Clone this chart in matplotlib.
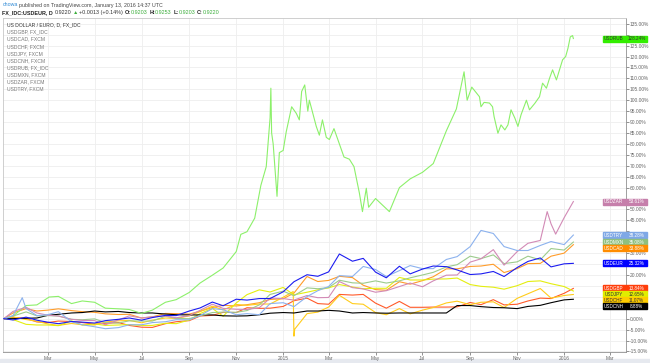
#!/usr/bin/env python3

"""USD against nine currencies, % change since Jan 2014 (TradingView compare chart)."""

import matplotlib
matplotlib.use('Agg')
import matplotlib.pyplot as plt
import pandas as pd
from matplotlib.patches import Rectangle

W, H = 650, 363
FONT = ['Liberation Sans', 'DejaVu Sans']

# Semi-monthly sample dates shared by most series.
grid_dates = ['2014-01-03', '2014-01-15', '2014-02-01', '2014-02-15',
              '2014-03-01', '2014-03-15', '2014-04-01', '2014-04-15',
              '2014-05-01', '2014-05-15', '2014-06-01', '2014-06-15',
              '2014-07-01', '2014-07-15', '2014-08-01', '2014-08-15',
              '2014-09-01', '2014-09-15', '2014-10-01', '2014-10-15',
              '2014-11-01', '2014-11-15', '2014-12-01', '2014-12-15',
              '2015-01-01', '2015-01-15', '2015-02-01', '2015-02-15',
              '2015-03-01', '2015-03-15', '2015-04-01', '2015-04-15',
              '2015-05-01', '2015-05-15', '2015-06-01', '2015-06-15',
              '2015-07-01', '2015-07-15', '2015-08-01', '2015-08-15',
              '2015-09-01', '2015-09-15', '2015-10-01', '2015-10-15',
              '2015-11-01', '2015-11-15', '2015-12-01', '2015-12-15',
              '2016-01-01', '2016-01-13']

# % change.
usdeur = [0, -0.6, 0.7, -0.7, -1.6, -2.3, -1.3, -1.6, -2.0, -0.9, -0.3, 0.3,
          -0.7, 0.5, 1.5, 1.4, 3.5, 4.9, 7.6, 5.9, 8.9, 8.5, 9.2, 9.2,
          12.3, 16.9, 20.1, 19.4, 21.4, 29.6, 26.3, 27.6, 21.3, 18.7, 24.0,
          20.5, 22.7, 24.1, 23.8, 22.3, 20.2, 20.5, 21.6, 19.3, 23.4, 26.2,
          27.8, 23.7, 25.1, 25.32]
usdgbp = [0, 0.6, 0.1, -1.5, -1.8, -1.1, -1.3, -1.8, -2.5, -2.1, -1.8, -3.1,
          -3.9, -4.0, -2.3, -1.4, -0.9, 1.2, 1.5, 2.9, 2.8, 5.0, 4.7, 4.8,
          5.6, 8.2, 9.4, 6.9, 6.6, 11.1, 10.8, 11.1, 7.1, 4.8, 7.9, 5.2,
          5.2, 5.3, 5.3, 5.4, 7.4, 6.4, 8.7, 6.3, 6.6, 8.1, 9.4, 9.2, 11.6,
          13.84]
usdcad = [0, 2.6, 4.6, 3.5, 3.9, 4.5, 3.7, 3.2, 2.9, 2.2, 1.9, 2.0, 0.3, 0.8,
          2.4, 2.3, 2.1, 3.4, 5.1, 6.1, 5.8, 6.4, 7.3, 8.8, 9.1, 11.7, 19.3,
          17.0, 17.5, 19.4, 18.8, 15.3, 13.3, 13.0, 16.9, 15.8, 17.4, 19.2,
          22.8, 22.8, 23.9, 24.1, 24.9, 21.1, 22.9, 25.2, 25.3, 28.6, 30.0,
          33.88]
usdjpy = [0, -0.4, -2.6, -2.9, -2.9, -3.2, -1.0, -2.9, -2.4, -3.1, -2.9, -2.7,
          -3.1, -3.1, -2.1, -2.3, -0.6, 2.3, 4.7, 1.1, 7.2, 11.0, 13.2, 12.2,
          14.3, 10.9, 12.1, 13.2, 14.1, 15.6, 14.5, 13.7, 13.9, 13.9, 18.9,
          17.7, 17.7, 18.1, 18.2, 18.6, 15.6, 14.8, 14.4, 13.5, 15.1, 17.0,
          17.3, 16.0, 14.7, 12.65]
usdcnh = [0, 0, 0.2, 0.3, 1.5, 2.0, 2.6, 2.8, 3.5, 3.1, 3.3, 2.8, 2.6, 2.6,
          2.1, 1.8, 1.7, 1.7, 1.7, 1.3, 1.2, 1.3, 1.8, 2.5, 2.8, 2.6, 3.5,
          3.5, 3.8, 3.5, 2.6, 2.8, 2.6, 2.5, 2.6, 2.6, 2.6, 2.6, 2.6, 6.0,
          6.0, 5.5, 5.1, 5.0, 4.6, 5.6, 6.1, 7.3, 8.6, 8.88]
usdmxn = [0, 1.2, 3.1, 1.3, 1.4, 1.2, -0.3, -0.5, -0.1, -1.8, -2.0, -1.0,
          -1.1, -1.1, 1.1, 0.1, 0, 1.3, 2.8, 3.0, 2.9, 3.7, 6.3, 11.1, 12.6,
          10.5, 14.1, 13.7, 14.2, 17.6, 16.4, 16.2, 17.3, 16.3, 17.3, 18.7,
          20.0, 21.2, 23.7, 24.7, 28.6, 27.5, 29.2, 25.2, 26.0, 28.6, 26.9,
          32.1, 31.4, 35.08]

# Series with events between the grid dates get their own dates.
chf_dates = grid_dates[:25] + ['2015-01-14', '2015-01-15', '2015-01-16',
                               '2015-01-23'] + grid_dates[26:]
usdchf = [0, 0.8, -0.4, -1.2, -2.4, -3.1, -2.2, -2.8, -2.9, -1.5, -1.0, -0.8,
          -1.9, -0.7, 0.3, 0.1, 1.3, 3.2, 5.7, 4.0, 6.5, 6.1, 6.7, 6.7, 9.8,
          12.4, -8.0, -4.8, -1.7,
          2.3, 3.0, 5.3, 10.7, 6.9, 6.6, 2.8, 1.8, 4.6, 2.2, 3.9, 5.1, 7.2,
          8.0, 6.4, 7.5, 7.7, 5.1, 9.3, 11.4, 13.8, 9.4, 10.6, 11.07]

zar_dates = grid_dates[:47] + ['2015-12-10', '2015-12-15', '2015-12-21',
                               '2016-01-01', '2016-01-13']
usdzar = [0, 3.3, 5.2, 2.6, 1.6, 1.2, -0.3, -0.8, -0.9, -2.8, -0.6, 1.3,
          0.3, 0.9, 1.2, 0.4, 1.4, 3.8, 6.6, 4.7, 4.3, 4.2, 5.0, 9.4, 9.2,
          8.5, 10.6, 9.6, 9.7, 17.0, 14.2, 13.6, 12.1, 12.8, 14.7, 16.3,
          14.6, 17.3, 19.9, 20.0, 25.9, 27.4, 31.6, 24.5, 30.7, 34.5, 35.8,
          49.0, 43.4, 38.7, 46.2, 53.61]

try_dates = grid_dates[:2] + ['2014-01-27'] + grid_dates[2:]
usdtry = [0, 1.4, 9.6, 4.6, 1.4, 1.8, 3.2, -1.4, -2.8, -3.7, -4.6, -4.1,
          -2.8, -2.8, -1.8, -1.4, -0.5, -0.5, 1.4, 4.6, 4.1, 1.8, 2.3, 1.8,
          6.9, 7.3, 5.5, 10.1, 12.8, 14.7, 19.7, 19.3, 23.9, 22.5, 19.3,
          22.0, 24.3, 22.9, 22.9, 27.1, 28.4, 33.0, 40.4, 39.0, 33.0, 31.2,
          31.2, 33.5, 35.3, 33.9, 38.28]

rub_dates = ['2014-01-03', '2014-01-15', '2014-02-01', '2014-02-15',
             '2014-03-03', '2014-03-15', '2014-04-01', '2014-04-15',
             '2014-05-01', '2014-05-15', '2014-06-01', '2014-06-15',
             '2014-07-01', '2014-07-15', '2014-08-01', '2014-08-15',
             '2014-09-01', '2014-09-15', '2014-10-01', '2014-10-15',
             '2014-11-01', '2014-11-07', '2014-11-15', '2014-11-25',
             '2014-12-03', '2014-12-10', '2014-12-15', '2014-12-16',
             '2014-12-17', '2014-12-19', '2014-12-24', '2014-12-27',
             '2015-01-01', '2015-01-05', '2015-01-12', '2015-01-18',
             '2015-01-22', '2015-01-25', '2015-01-29', '2015-02-02',
             '2015-02-04', '2015-02-13', '2015-02-17', '2015-02-21',
             '2015-02-26', '2015-03-02', '2015-03-08', '2015-03-13',
             '2015-03-21', '2015-03-28', '2015-04-03', '2015-04-10',
             '2015-04-14', '2015-04-19', '2015-04-22', '2015-05-01',
             '2015-05-19', '2015-06-01', '2015-06-15', '2015-07-01',
             '2015-07-15', '2015-08-01', '2015-08-14', '2015-08-24',
             '2015-08-28', '2015-09-03', '2015-09-13', '2015-09-15',
             '2015-09-19', '2015-09-26', '2015-09-30', '2015-10-02',
             '2015-10-07', '2015-10-11', '2015-10-16', '2015-10-20',
             '2015-10-24', '2015-10-29', '2015-11-02', '2015-11-06',
             '2015-11-13', '2015-11-17', '2015-11-24', '2015-11-30',
             '2015-12-04', '2015-12-09', '2015-12-13', '2015-12-17',
             '2015-12-22', '2015-12-26', '2015-12-30', '2016-01-03',
             '2016-01-06', '2016-01-09', '2016-01-12', '2016-01-13']
usdrub = [0, 1.2, 6.0, 6.3, 9.9, 10.2, 6.9, 8.1, 7.5, 4.8, 4.5, 4.2, 2.4, 3.9,
          7.5, 8.7, 12.0, 16.3, 19.9, 23.2, 30.7, 38.6, 39.8, 46.0, 61.0,
          69.6, 92.0, 105.5, 85.0, 80.0, 56.0, 76.0, 77.0, 85.6, 97.0, 94.0,
          91.0, 104.0, 107.0, 95.0, 100.0, 88.0, 84.0, 91.0, 83.0, 82.0,
          87.0, 82.0, 74.0, 73.0, 69.6, 57.5, 49.0, 59.7, 51.0, 55.0, 49.0,
          60.0, 64.0, 67.0, 71.0, 86.0, 96.0, 113.0, 100.0, 106.0, 101.6,
          97.0, 99.0, 98.7, 97.0, 92.5, 84.9, 88.7, 86.4, 88.7, 95.6, 91.8,
          88.0, 93.3, 100.0, 95.6, 98.6, 101.6, 107.8, 105.5, 110.0, 113.9,
          109.3, 113.9, 118.5, 120.0, 123.8, 129.0, 129.6, 128.24]

legend_lines = ['US DOLLAR / EURO, D, FX_IDC', 'USDGBP, FX_IDC', 'USDCAD, FXCM',
                'USDCHF, FXCM', 'USDJPY, FXCM', 'USDCNH, FXCM',
                'USDRUB, FX_IDC', 'USDMXN, FXCM', 'USDZAR, FXCM',
                'USDTRY, FXCM']

month_ticks = ['2014-03-01', '2014-05-01', '2014-07-01', '2014-09-01',
               '2014-11-01', '2015-01-01', '2015-03-01', '2015-05-01',
               '2015-07-01', '2015-09-01', '2015-11-01', '2016-01-01',
               '2016-03-01']
month_labels = ['Mar', 'May', 'Jul', 'Sep', 'Nov', '2015', 'Mar', 'May',
                'Jul', 'Sep', 'Nov', '2016', 'Mar']

# name, dates, values, line colour, badge colour, badge text colour
series = [
    ('USDEUR', grid_dates, usdeur, '#1c1cf0', '#0000ff', 'white'),
    ('USDGBP', grid_dates, usdgbp, '#ff5a2a', '#ff3d0a', 'white'),
    ('USDCAD', grid_dates, usdcad, '#ff9c2a', '#ff8c00', 'white'),
    ('USDCHF', chf_dates, usdchf, '#ffcc1a', '#ffcc00', '#333333'),
    ('USDJPY', grid_dates, usdjpy, '#e4ee10', '#e0ee00', '#333333'),
    ('USDCNH', grid_dates, usdcnh, '#000000', '#000000', 'white'),
    ('USDRUB', rub_dates, usdrub, '#8cf06a', '#33ee00', '#333333'),
    ('USDMXN', grid_dates, usdmxn, '#9ccb8c', '#8fc07f', 'white'),
    ('USDZAR', zar_dates, usdzar, '#d28ab6', '#c67fab', 'white'),
    ('USDTRY', try_dates, usdtry, '#8cb2ee', '#7fa8e6', 'white'),
]

fig = plt.figure(figsize=(W / 100, H / 100), dpi=100)
fig.patch.set_facecolor('white')
L, R, T, B = 3, 625.7, 18.3, 352.3
ax = fig.add_axes([L / W, 1 - B / H, (R - L) / W, (B - T) / H])

for name, d, v, color, _, _ in series:
    ax.plot(pd.to_datetime(d), v, color=color, lw=0.8,
            zorder=3 if name == 'USDEUR' else 2)

ax.set_xlim(pd.Timestamp('2014-01-02'), pd.Timestamp('2016-03-21'))
ax.set_ylim(-15.4, 137.5)

ax.set_xticks(pd.to_datetime(month_ticks))
ax.set_xticklabels(month_labels)

# Badges at the right edge, pushed apart where they overlap.
badges = sorted(((v[-1], name, bc, tc) for name, _, v, _, bc, tc in series),
                reverse=True)
gap = 2.75
placed = []
for val, name, bc, tc in badges:
    y = val if not placed else min(val, placed[-1][0] - gap)
    placed.append((y, val, name, bc, tc))

yt = list(range(-15, 140, 5))
ax.set_yticks(yt)
ax.set_yticklabels(['' if any(abs(t - p[0]) < 2.0 for p in placed)
                    else '%.2f%%' % t for t in yt])
ax.yaxis.tick_right()

ax.grid(color='#eeeeee', lw=0.6)
ax.tick_params(labelsize=3.5, colors='#666666', length=2, width=0.5, pad=1)
for lab in ax.get_xticklabels() + ax.get_yticklabels():
    lab.set_family(FONT)
ax.spines['left'].set_color('#c8c8c8')
ax.spines['top'].set_color('#c8c8c8')
ax.spines['right'].set_color('#909090')
ax.spines['bottom'].set_color('#909090')
for s in ax.spines.values():
    s.set_linewidth(0.6)

for i, line in enumerate(legend_lines):
    ax.text(6.7 / W, 1 - (25 + 7.1 * i) / H, line, transform=fig.transFigure,
            fontsize=3.6, family=FONT, va='center', ha='left',
            color='#333333' if i == 0 else '#777777')

fig.canvas.draw()
for y, val, name, bc, tc in placed:
    py = ax.transData.transform((0, y))[1]
    fig.add_artist(Rectangle((603 / W, (py - 3) / H), 44 / W, 6 / H,
                             transform=fig.transFigure, color=bc, zorder=5))
    fig.text(613.5 / W, py / H, name, fontsize=3.3, family=FONT, color=tc,
             ha='center', va='center', zorder=6)
    fig.text(636.5 / W, py / H, '%.2f%%' % val, fontsize=3.3, family=FONT,
             color=tc, ha='center', va='center', zorder=6)

# Light strip under the time axis.
fig.add_artist(Rectangle((0, 0), 1, 4 / H, transform=fig.transFigure,
                         color='#e6e9ef', zorder=0))


def draw_runs(x, y, runs, size):
    renderer = fig.canvas.get_renderer()
    for text, color, weight, pad in runs:
        t = fig.text(x / W, 1 - y / H, text, color=color, fontsize=size,
                     fontweight=weight, family=FONT, va='center', ha='left')
        x += t.get_window_extent(renderer).width + pad


green = '#3cae3c'
draw_runs(2.5, 5, [('chowa', '#2f8ad6', 'normal', 1.2),
                   ('published on TradingView.com, January 13, 2016 14:37 UTC',
                    '#444444', 'normal', 0)], 3.8)
draw_runs(2.5, 12.3, [('FX_IDC:USDEUR, D', '#222222', 'bold', 1.5),
                      ('0.9220', '#333333', 'normal', 1.2),
                      ('\u25b2', green, 'normal', 1.2),
                      ('+0.0013 (+0.14%)', '#333333', 'normal', 1.5),
                      ('O:', '#222222', 'bold', 0.3), ('0.9203', green, 'normal', 1.5),
                      ('H:', '#222222', 'bold', 0.3), ('0.9253', green, 'normal', 1.5),
                      ('L:', '#222222', 'bold', 0.3), ('0.9203', green, 'normal', 1.5),
                      ('C:', '#222222', 'bold', 0.3), ('0.9220', green, 'normal', 0)],
          3.85)

fig.savefig('out.png', dpi=100)
